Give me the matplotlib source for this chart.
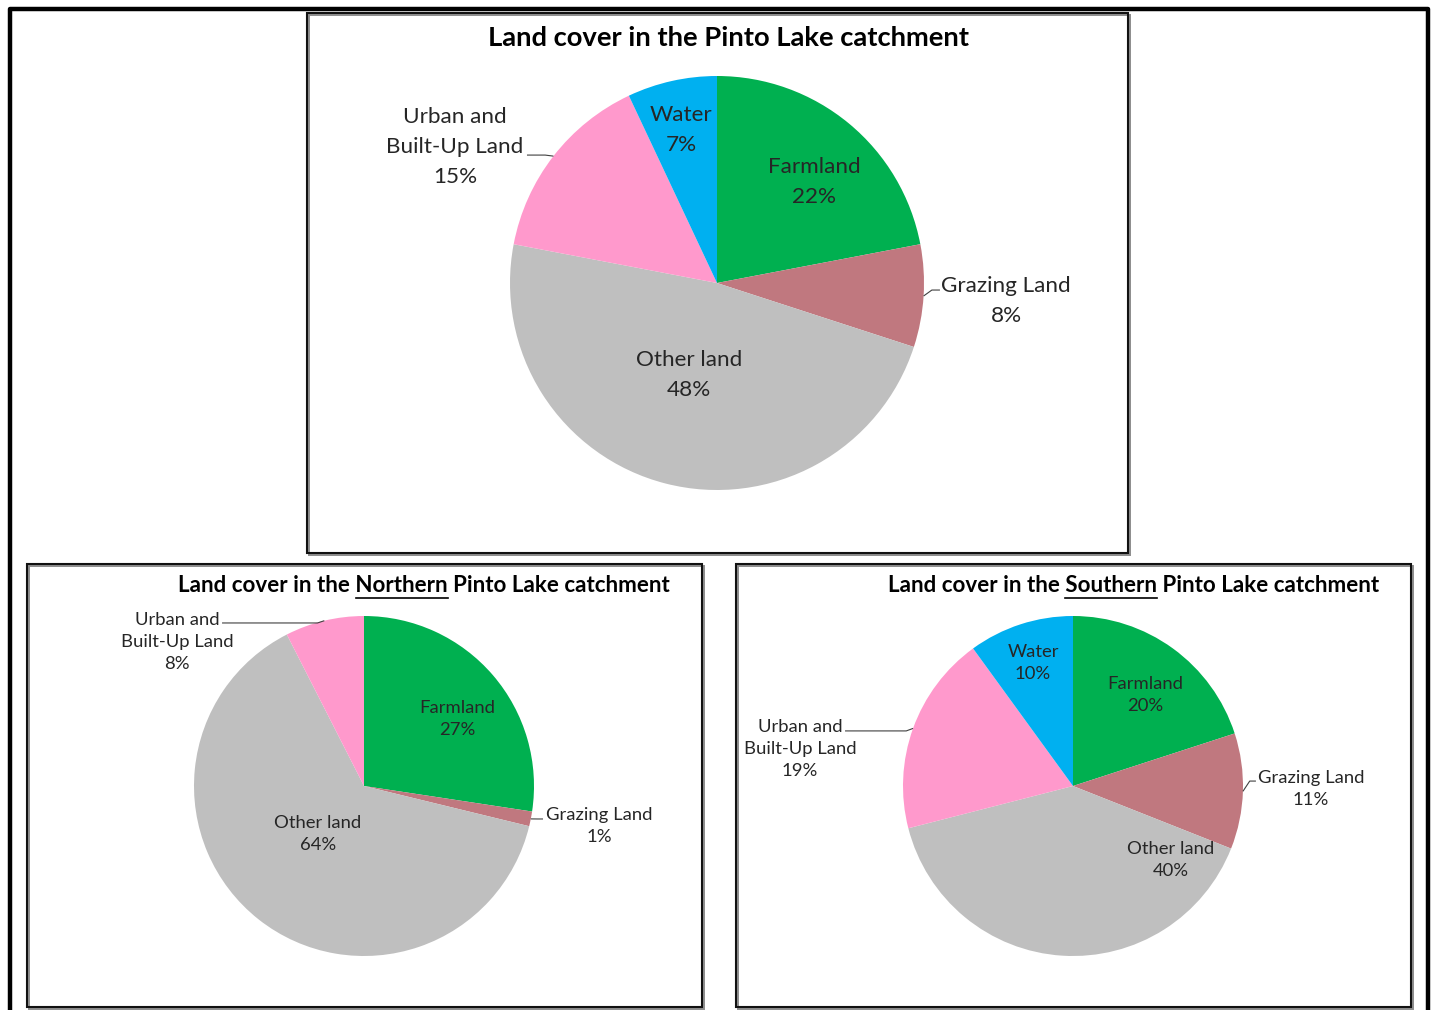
import matplotlib
matplotlib.use("Agg")
import matplotlib.pyplot as plt
from matplotlib.patches import Rectangle
from matplotlib.lines import Line2D
from matplotlib.font_manager import FontProperties
import numpy as np

################
# DATA
################
categories = ["Farmland", "Grazing Land", "Other land", "Urban and\nBuilt-Up Land", "Water"]
colors = ["#00B050", "#C0787F", "#BFBFBF", "#FF99CC", "#00B0F0"]

# shares in percent
total_share = [22, 8, 48, 15, 7]
north_share = [27.4, 1.4, 63.7, 7.5, 0.0]
south_share = [20, 11, 40, 19, 10]

titles = ["Land cover in the Pinto Lake catchment",
          "Land cover in the Northern Pinto Lake catchment",
          "Land cover in the Southern Pinto Lake catchment"]
underlined = [None, "Northern", "Southern"]

# label centres, in pie radius units
total_label_xy = [(0.47, 0.49), (1.396, -0.087), (-0.135, -0.444), (-1.266, 0.657), (-0.174, 0.739)]
north_label_xy = [(0.547, 0.394), (1.382, -0.235), (-0.271, -0.282), (-1.10, 0.847), None]
south_label_xy = [(0.424, 0.535), (1.40, -0.018), (0.576, -0.435), (-1.606, 0.218), (-0.235, 0.724)]
# which labels sit outside with a leader line, and where the line meets the text
total_leader = {1: (1.077, -0.034), 3: (-0.918, 0.618)}
north_leader = {1: (1.053, -0.194), 3: (-0.835, 0.959)}
south_leader = {1: (1.076, 0.029), 3: (-1.341, 0.324)}

W, H = 1434, 1010
FONT = "Lato"
TEXT_COLOR = "#262626"

fig = plt.figure(figsize=(W / 100, H / 100), dpi=100)
fig.patch.set_facecolor("white")


def fx(px):
    return px / W


def fy(py):
    return (H - py) / H


def draw_box(x0, y0, x1, y1):
    # grey shadow plus dark frame, like the copied Excel chart
    fig.add_artist(Rectangle((fx(x0 + 1.5), fy(y1 + 1.5)), fx(x1 - x0), (y1 - y0) / H,
                             transform=fig.transFigure, fill=False, edgecolor="#8c8c8c", lw=1.4))
    fig.add_artist(Rectangle((fx(x0), fy(y1)), fx(x1 - x0), (y1 - y0) / H,
                             transform=fig.transFigure, fill=False, edgecolor="#111111", lw=1.5))


def draw_pie(box, center, r, shares, label_xy, leaders, fsize, lspace):
    x0, y0, x1, y1 = box
    cx, cy = center
    ax = fig.add_axes([fx(x0), fy(y1), fx(x1 - x0), (y1 - y0) / H])
    wedges, _ = ax.pie(shares, colors=colors, startangle=90, counterclock=False,
                       radius=1, wedgeprops=dict(linewidth=0))
    ax.set_xlim((x0 - cx) / r, (x1 - cx) / r)
    ax.set_ylim(-(y1 - cy) / r, (cy - y0) / r)
    ax.set_aspect("auto")
    ax.axis("off")

    for i, (w, v) in enumerate(zip(wedges, shares)):
        if v <= 0 or label_xy[i] is None:
            continue
        lx, ly = label_xy[i]
        ax.text(lx, ly, f"{categories[i]}\n{round(v)}%", ha="center", va="center",
                multialignment="center", fontsize=fsize, family=FONT,
                color=TEXT_COLOR, linespacing=lspace)
        if i in leaders:
            mid = np.deg2rad((w.theta1 + w.theta2) / 2)
            ex, ey = np.cos(mid), np.sin(mid)
            tx, ty = leaders[i]
            side = 1 if tx > ex else -1
            elbow_x = ex + side * 0.04
            if side * (tx - elbow_x) < 0:
                elbow_x = tx
            ax.plot([ex, elbow_x, tx], [ey, ty, ty], color="#404040", lw=0.8,
                    solid_capstyle="butt")
    return ax


def draw_title(text, word, x, y, ha, fsize):
    fig.text(fx(x), fy(y), text, ha=ha, va="center", fontsize=fsize,
             family=FONT, weight="bold", color="black")
    if word is None:
        return
    renderer = fig.canvas.get_renderer()
    prop = FontProperties(family=FONT, weight="bold", size=fsize)
    wfull = renderer.get_text_width_height_descent(text, prop, ismath=False)[0]
    head = text[:text.index(word) + len(word)]
    whead = renderer.get_text_width_height_descent(head, prop, ismath=False)[0]
    wword = renderer.get_text_width_height_descent(word, prop, ismath=False)[0]
    left = x - wfull if ha == "right" else x
    end = left + whead
    start = end - wword
    fig.add_artist(Line2D([fx(start), fx(end)], [fy(y + 13), fy(y + 13)],
                          transform=fig.transFigure, color="black", lw=1.2))


# outer frame of the page (no bottom edge)
fig.add_artist(Line2D([fx(10), fx(10), fx(1428), fx(1428)], [0, fy(9), fy(9), 0],
                      transform=fig.transFigure, color="black", lw=3.2))

# top chart
draw_box(307, 13, 1128, 553)
draw_pie((307, 13, 1128, 553), (717, 283), 207, total_share, total_label_xy,
         total_leader, 16.2, 1.62)
draw_title(titles[0], underlined[0], 728, 38, "center", 19.7)

# bottom left chart
draw_box(27, 564, 702, 1007)
draw_pie((27, 564, 702, 1007), (364, 786), 170, north_share, north_label_xy,
         north_leader, 13.3, 1.46)
draw_title(titles[1], underlined[1], 670, 585, "right", 16.1)

# bottom right chart
draw_box(736, 564, 1411, 1007)
draw_pie((736, 564, 1411, 1007), (1073, 786), 170, south_share, south_label_xy,
         south_leader, 13.3, 1.46)
draw_title(titles[2], underlined[2], 1379, 585, "right", 16.1)

fig.savefig("out.png", dpi=100)
